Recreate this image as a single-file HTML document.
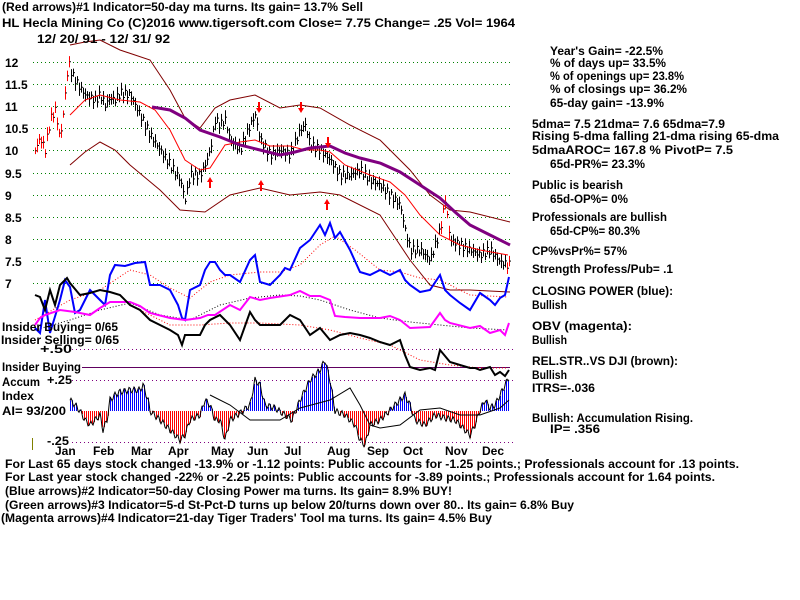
<!DOCTYPE html>
<html><head><meta charset="utf-8"><style>
html,body{margin:0;padding:0;background:#fff;}
svg{display:block;}
text{font-family:"Liberation Sans",sans-serif;font-weight:bold;font-size:12px;fill:#000;}
</style></head><body>
<svg id="s" width="800" height="600" xmlns="http://www.w3.org/2000/svg">
<g id="grid" stroke="#008000" stroke-dasharray="1,3" stroke-width="1"></g>
<g id="plots"></g>
<text x="2" y="11" textLength="361" lengthAdjust="spacingAndGlyphs">(Red arrows)#1 Indicator=50-day ma turns. Its gain= 13.7% Sell</text>
<text x="2" y="27" textLength="513" lengthAdjust="spacingAndGlyphs">HL   Hecla Mining Co  (C)2016 www.tigersoft.com      Close=  7.75  Change= .25 Vol= 1964</text>
<text x="37" y="43" textLength="133" lengthAdjust="spacingAndGlyphs">12/ 20/ 91 - 12/ 31/ 92</text>
<g id="ylab"></g>
<text x="2" y="331" textLength="116" lengthAdjust="spacingAndGlyphs">Insider Buying= 0/65</text>
<text x="1" y="344" textLength="118" lengthAdjust="spacingAndGlyphs">Insider Selling= 0/65</text>
<text x="40" y="353" textLength="32" lengthAdjust="spacingAndGlyphs">+.50</text>
<text x="2" y="371" textLength="79" lengthAdjust="spacingAndGlyphs">Insider Buying</text>
<text x="2" y="386" textLength="38" lengthAdjust="spacingAndGlyphs">Accum</text>
<text x="47" y="384" textLength="25" lengthAdjust="spacingAndGlyphs">+.25</text>
<text x="2" y="400" textLength="32" lengthAdjust="spacingAndGlyphs">Index</text>
<text x="2" y="415" textLength="64" lengthAdjust="spacingAndGlyphs">AI= 93/200</text>
<text x="47" y="445" textLength="22" lengthAdjust="spacingAndGlyphs">-.25</text>
<line x1="32.5" y1="438" x2="32.5" y2="450" stroke="#808000"/>
<g id="months"></g>
<g id="right"></g>
<text x="5" y="468" textLength="734" lengthAdjust="spacingAndGlyphs">For Last 65 days stock changed -13.9% or -1.12 points:  Public accounts for -1.25 points.;  Professionals account for  .13 points.</text>
<text x="5" y="481" textLength="710" lengthAdjust="spacingAndGlyphs">For Last year stock changed -22% or -2.25 points:  Public accounts for -3.89 points.;  Professionals account for  1.64 points.</text>
<text x="5" y="495" textLength="447" lengthAdjust="spacingAndGlyphs">(Blue arrows)#2 Indicator=50-day Closing Power ma turns. Its gain= 8.9% BUY!</text>
<text x="5" y="509" textLength="569" lengthAdjust="spacingAndGlyphs">(Green arrows)#3 Indicator=5-d St-Pct-D turns up below 20/turns down over 80.. Its gain= 6.8% Buy</text>
<text x="1" y="522" textLength="491" lengthAdjust="spacingAndGlyphs">(Magenta arrows)#4 Indicator=21-day Tiger Traders' Tool ma turns. Its gain= 4.5% Buy</text>
</svg>
<script>
var NS="http://www.w3.org/2000/svg";
function el(p,t,a,txt){var e=document.createElementNS(NS,t);for(var k in a)e.setAttribute(k,a[k]);if(txt!=null)e.textContent=txt;document.getElementById(p).appendChild(e);return e;}
var gy=[62,84,106,128,150,173,195,217,239,261,283];
var gl=["12","11.5","11","10.5","10","9.5","9","8.5","8","7.5","7"];
gy.forEach(function(y,i){el("grid","line",{x1:33,y1:y+.5,x2:513,y2:y+.5});el("ylab","text",{x:5,y:y+5,"font-size":"13"},gl[i]);});
[349,380,442].forEach(function(y){el("grid","line",{x1:72,y1:y+.5,x2:513,y2:y+.5,stroke:"#800080"});});
el("plots","line",{x1:82,y1:367.5,x2:510,y2:367.5,stroke:"#600060","stroke-width":1});
function interp(pts,x){for(var i=1;i<pts.length;i++){if(x<=pts[i][0]){var a=pts[i-1],b=pts[i],t=(x-a[0])/(b[0]-a[0]);return a[1]+t*(b[1]-a[1]);}}return pts[pts.length-1][1];}
function pl(pts,c,w,dash){var s=pts.map(function(p){return p[0]+","+p[1]}).join(" ");var a={points:s,fill:"none",stroke:c,"stroke-width":w};if(dash)a["stroke-dasharray"]=dash;el("plots","polyline",a);}
pl([[70,45],[85,42],[100,40],[120,50],[150,60],[170,90],[185,118],[200,128],[215,108],[230,100],[255,95],[280,108],[300,105],[320,108],[350,125],[380,140],[410,170],[430,195],[450,210],[470,212],[510,222]],"#800000",1);
pl([[70,165],[85,152],[100,142],[115,150],[130,165],[160,190],[180,210],[205,212],[230,195],[260,188],[290,195],[320,192],[340,195],[380,215],[410,260],[430,285],[450,290],[470,290],[510,292]],"#800000",1);
var price=[[35,150],[40,138],[45,150],[50,120],[55,110],[60,140],[65,95],[68,62],[72,75],[78,85],[85,95],[95,100],[100,95],[105,105],[110,98],[115,100],[120,93],[130,95],[135,105],[140,115],[150,135],[160,150],[170,165],[180,180],[185,200],[190,175],[200,175],[205,165],[210,150],[215,120],[220,125],[225,120],[230,140],[240,150],[250,125],[255,115],[260,140],[270,155],[280,150],[290,155],[300,130],[305,125],[310,145],[320,150],[330,160],[340,175],[350,175],[360,170],[370,180],[380,185],[390,195],[400,205],[405,230],[410,250],[420,250],[430,260],[440,230],[445,200],[450,240],[460,245],[470,250],[480,255],[490,250],[500,262],[508,265]];
for(var x=35;x<=509;x+=2){var y=interp(price,x)+Math.sin(x*1.7)*4;var h=6+Math.abs(Math.sin(x*0.9))*8;el("plots","line",{x1:x+.5,y1:y-h/2,x2:x+.5,y2:y+h/2,stroke:(x<70||(x>440&&x<450)||x>505)?"#f00":"#000","stroke-width":1});el("plots","line",{x1:x+.5,y1:y,x2:x+2,y2:y,stroke:"#000"});}
pl([[70,115],[85,100],[100,95],[120,100],[140,102],[155,110],[170,130],[185,160],[200,170],[210,168],[225,145],[240,142],[255,140],[270,146],[290,146],[305,150],[320,150],[330,152],[345,165],[370,175],[390,182],[405,195],[420,215],[440,235],[460,245],[480,250],[508,255]],"#f00",1);
pl([[152,107],[170,110],[185,118],[200,130],[220,137],[240,145],[260,150],[280,155],[295,152],[310,148],[330,146],[345,153],[360,158],[380,163],[400,172],[420,185],[440,198],[455,212],[470,225],[490,235],[510,245]],"#800080",3);
function arr(x,y,down){var d=down?1:-1;el("plots","line",{x1:x,y1:y-8*d,x2:x,y2:y,stroke:"#f00","stroke-width":2});el("plots","polygon",{points:(x-3)+","+(y-2*d)+" "+(x+3)+","+(y-2*d)+" "+x+","+(y+3*d),fill:"#f00"});}
arr(259,110,true);arr(301,110,true);arr(328,145,true);arr(210,180,false);arr(261,183,false);arr(327,202,false);
pl([[35,320],[70,300],[100,290],[130,270],[150,275],[170,288],[190,298],[210,282],[230,275],[260,272],[280,272],[300,265],[320,245],[335,236],[355,250],[380,270],[400,272],[420,278],[440,280],[470,295],[508,297]],"#f00",1,"1,2");
pl([[35,330],[70,320],[100,310],[130,303],[160,315],[190,320],[220,305],[250,298],[280,295],[300,296],[320,300],[350,310],[380,318],[410,322],[440,325],[470,328],[508,330]],"#000",1,"1,2");
pl([[140,310],[170,325],[200,325],[230,323],[260,323],[300,325],[330,330],[360,338],[390,345],[420,360],[450,365],[480,368],[508,368]],"#f00",1,"1,2");
var blue=[[35,328],[40,333],[45,300],[50,333],[60,300],[65,280],[70,287],[75,313],[80,310],[90,290],[100,300],[105,305],[110,275],[115,265],[125,266],[135,263],[145,262],[150,285],[160,285],[170,290],[178,305],[182,318],[185,320],[190,290],[200,285],[205,270],[210,262],[215,262],[220,270],[225,275],[230,275],[240,282],[250,260],[255,255],[260,282],[270,285],[280,275],[285,268],[290,270],[300,248],[310,240],[320,225],[325,235],[330,223],[335,238],[340,232],[350,250],[360,272],[370,275],[380,270],[390,275],[400,270],[405,280],[410,285],[420,292],[430,290],[440,275],[445,290],[450,295],[460,303],[470,310],[480,293],[490,300],[495,305],[500,298],[505,295],[509,277]];
pl(blue,"#00f",2);
var mag=[[35,325],[40,318],[45,315],[60,310],[75,312],[85,314],[90,315],[100,308],[110,302],[130,302],[140,306],[150,313],[170,318],[185,320],[200,318],[208,315],[215,315],[230,305],[240,310],[250,297],[260,300],[270,298],[290,295],[300,291],[310,296],[320,296],[330,300],[335,316],[345,317],[360,318],[380,318],[390,316],[400,320],[410,328],[430,327],[440,313],[445,320],[450,323],[470,328],[480,326],[490,333],[500,330],[505,335],[509,323]];
pl(mag,"#f0f",2);
var blk=[[35,295],[40,297],[45,310],[50,290],[55,305],[60,285],[67,278],[70,283],[80,295],[90,293],[100,290],[110,292],[120,295],[130,305],[140,310],[150,320],[160,325],[170,330],[178,335],[182,345],[185,335],[200,335],[205,325],[210,320],[220,315],[230,325],[240,340],[250,312],[255,320],[260,325],[270,325],[280,325],[290,315],[300,320],[310,335],[320,328],[330,340],[340,335],[350,333],[360,335],[370,338],[380,342],[390,345],[400,340],[405,355],[410,367],[420,370],[430,368],[435,370],[440,350],[445,356],[450,362],[460,365],[470,368],[475,368],[480,370],[490,367],[495,375],[500,372],[505,376],[509,370]];
pl(blk,"#000",2);
var ai=[[70,400],[75,405],[80,411],[85,420],[90,425],[100,415],[103,430],[107,420],[110,400],[115,395],[120,392],[130,390],[140,390],[143,385],[148,400],[150,411],[160,420],[170,430],[180,440],[185,435],[190,420],[200,415],[205,400],[210,405],[215,420],[220,420],[225,440],[230,420],[240,413],[250,405],[255,380],[260,385],[265,405],[275,408],[285,415],[292,420],[300,400],[310,380],[320,370],[325,360],[330,380],[335,411],[345,415],[355,425],[360,440],[365,445],[370,425],[380,420],[395,405],[400,400],[405,395],[410,405],[415,420],[425,425],[435,415],[445,418],[455,420],[465,430],[470,435],[475,425],[480,410],[485,400],[490,408],[495,405],[500,395],[505,385],[509,377]];
var pts=[];
for(var x=70;x<=509;x+=1){var v=interp(ai,x)+Math.sin(x*1.3)*3;pts.push([x,v]);if(x%2==0)el("plots","line",{x1:x+.5,y1:411,x2:x+.5,y2:v,stroke:v<411?"#00f":"#f00"});}
pl(pts,"#000",1);
pl([[210,395],[230,405],[250,420],[280,420],[300,408],[330,400],[350,388],[360,405],[370,425],[380,428],[400,425],[420,410],[440,408],[460,415],[480,415],[500,408],[509,400]],"#000",1);
[["Jan",55],["Feb",93],["Mar",131],["Apr",168],["May",211],["Jun",247],["Jul",284],["Aug",327],["Sep",367],["Oct",403],["Nov",445],["Dec",482]].forEach(function(m){el("months","text",{x:m[1],y:455},m[0]);});
var R=[["Year's Gain= -22.5%",550,55,113],["% of days up= 33.5%",550,67,116],["% of openings up= 23.8%",550,80,134],["% of closings up= 36.2%",550,93,137],["65-day gain= -13.9%",550,107,114],
["5dma= 7.5 21dma= 7.6 65dma=7.9",532,128,193],["Rising 5-dma  falling 21-dma  rising 65-dma",532,140,247],["5dmaAROC= 167.8 %  PivotP= 7.5",532,154,201],["65d-PR%= 23.3%",550,168,95],
["Public is bearish",532,189,91],["65d-OP%= 0%",550,203,78],["Professionals are bullish",532,221,135],["65d-CP%= 80.3%",550,235,90],["CP%vsPr%=  57%",532,255,95],["Strength Profess/Pub= .1",532,273,141],
["CLOSING POWER (blue):",532,295,141],["Bullish",532,309,35],["OBV (magenta):",532,330,100],["Bullish",532,344,35],["REL.STR..VS DJI (brown):",532,365,146],["Bullish",532,379,35],["ITRS=-.036",532,392,63],
["Bullish: Accumulation Rising.",532,422,161],["IP=  .356",550,433,50]];
R.forEach(function(r){el("right","text",{x:r[1],y:r[2],textLength:r[3],lengthAdjust:"spacingAndGlyphs"},r[0]);});
</script>
</body></html>
